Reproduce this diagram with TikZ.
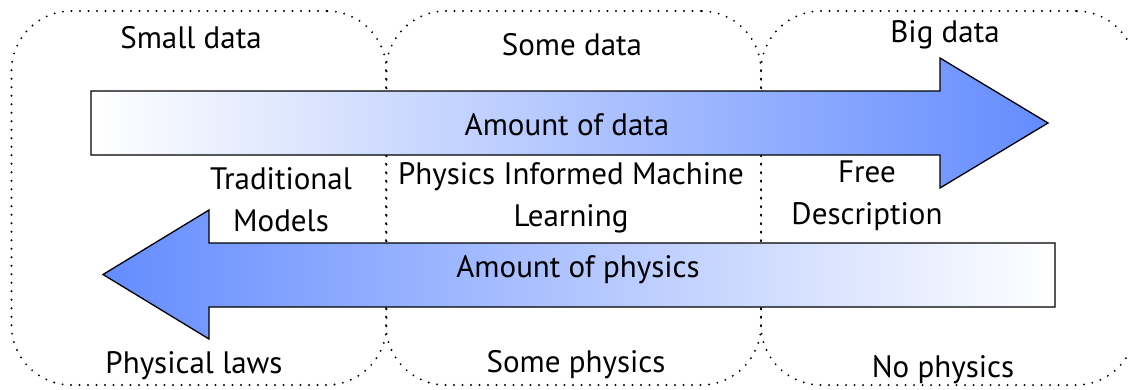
\documentclass[tikz,border=0pt]{standalone}
\usepackage{fontspec}
\setmainfont{PT Sans}
\usepackage{tikz}
\usetikzlibrary{positioning}
\definecolor{arrowblue}{RGB}{100,140,255}
\tikzset{
zone/.style={draw=black,line width=2.1pt,dash pattern=on 0pt off 8.5pt,line cap=round,
rounded corners=60pt,minimum width=375pt,minimum height=374pt,inner sep=0pt},
bigarrow/.style={draw=black,line width=1.3pt,line join=miter},
lbl/.style={font=\fontsize{31}{42}\selectfont,align=center,inner sep=0pt}
}

\begin{document}
\begin{tikzpicture}[x=1pt,y=-1pt]
\useasboundingbox (0,0) rectangle (1129,389);
\node[zone] (small) at (199,198) {};
\node[zone] (some) at (573.5,198) {};
\node[zone] (big) at (948.5,198) {};
\shade[bigarrow,left color=white,right color=arrowblue]
(91,91) -- (940,91) -- (940,58) -- (1048,123) -- (940,188) -- (940,155) -- (91,155) -- cycle;
\shade[bigarrow,left color=arrowblue,right color=white]
(1055,243) -- (209,243) -- (209,210) -- (103,274.5) -- (209,339) -- (209,307) -- (1055,307) -- cycle;
\node[lbl,anchor=base] (smalldata) at (191,48) {Small data};
\node[lbl,anchor=base] (somedata) at (572,55) {Some data};
\node[lbl,anchor=base] (bigdata) at (945,42) {Big data};
\node[lbl,anchor=base] (amountdata) at (567,135) {Amount of data};
\node[lbl] (trad) at (281,200) {Traditional\\Models};
\node[lbl] (piml) at (571,198) {Physics Informed Machine\\Learning};
\node[lbl] (free) at (867,196) {Free\\Description};
\node[lbl,anchor=base] (amountphys) at (578,277) {Amount of physics};
\node[lbl,anchor=base] (laws) at (194,373) {Physical laws};
\node[lbl,anchor=base] (somephys) at (576,372) {Some physics};
\node[lbl,anchor=base] (nophys) at (943,377) {No physics};
\end{tikzpicture}
\end{document}
